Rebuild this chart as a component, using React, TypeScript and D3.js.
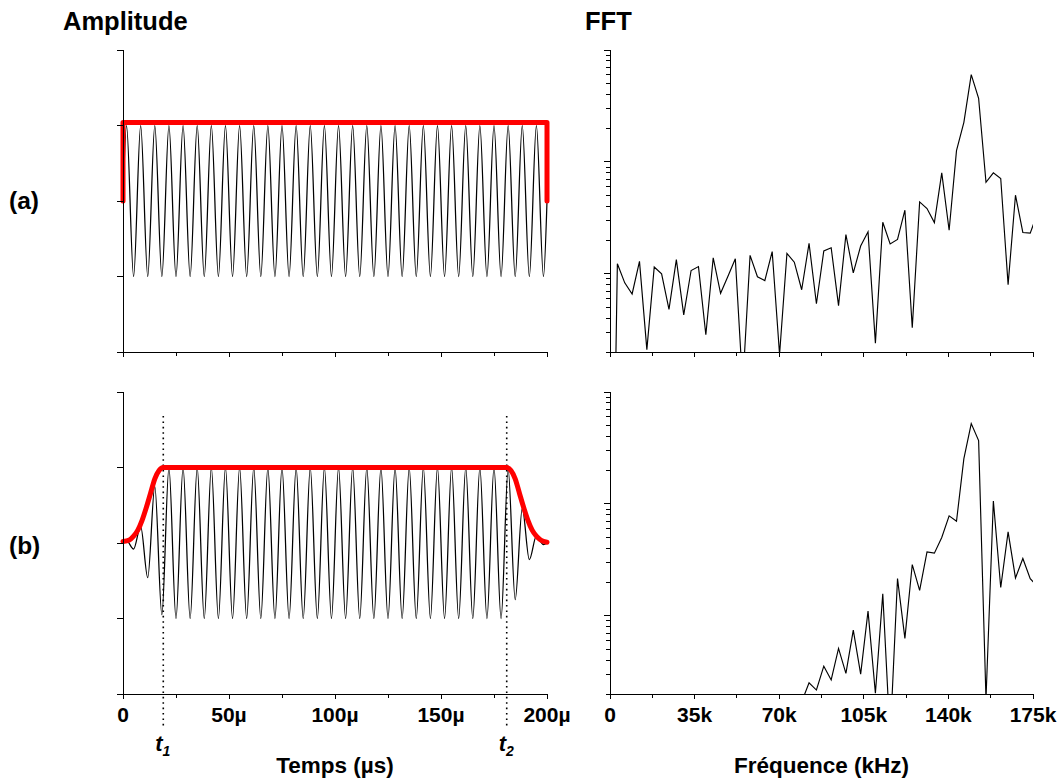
import React from "react";
import * as d3 from "d3";

// ---------- DATA ----------
// times (µs) of the carrier extrema (150 kHz carrier), plus start/end
const carrierTimes = [
  0, 1.67, 5, 8.33, 11.67, 15, 18.33, 21.67, 25, 28.33, 31.67, 35, 38.33, 41.67, 45, 48.33,
  51.67, 55, 58.33, 61.67, 65, 68.33, 71.67, 75, 78.33, 81.67, 85, 88.33, 91.67, 95, 98.33,
  101.67, 105, 108.33, 111.67, 115, 118.33, 121.67, 125, 128.33, 131.67, 135, 138.33, 141.67,
  145, 148.33, 151.67, 155, 158.33, 161.67, 165, 168.33, 171.67, 175, 178.33, 181.67, 185,
  188.33, 191.67, 195, 198.33, 200,
];
// (a) rectangular burst: extrema values
const signalA = [
  0,
  1, -1, 1, -1, 1, -1, 1, -1, 1, -1, 1, -1, 1, -1, 1, -1, 1, -1, 1, -1,
  1, -1, 1, -1, 1, -1, 1, -1, 1, -1, 1, -1, 1, -1, 1, -1, 1, -1, 1, -1,
  1, -1, 1, -1, 1, -1, 1, -1, 1, -1, 1, -1, 1, -1, 1, -1, 1, -1, 1, -1,
  0,
];
// (b) smoothed burst: extrema values
const signalB = [
  0, 0.03, -0.08, 0.22, -0.46, 0.75, -0.95,
  1, -1, 1, -1, 1, -1, 1, -1, 1, -1, 1, -1, 1, -1, 1, -1, 1, -1, 1, -1,
  1, -1, 1, -1, 1, -1, 1, -1, 1, -1, 1, -1, 1, -1, 1, -1, 1, -1, 1, -1,
  1, -1, 1, -1, 1, -1, 1, -1,
  0.98, -0.75, 0.46, -0.22, 0.09, -0.02, 0,
];
const envelopeATimes = [0, 0, 200, 200];
const envelopeAValues = [0, 1.04, 1.04, 0];
const envelopeBTimes = [0, 3, 5, 7, 9, 11, 13, 15, 17, 19, 181, 183, 185, 187, 189, 191, 193, 195, 197, 200];
const envelopeBValues = [0.02, 0.04, 0.09, 0.17, 0.3, 0.47, 0.66, 0.85, 0.96, 1, 1, 0.96, 0.85, 0.66, 0.47, 0.3, 0.17, 0.09, 0.04, 0.01];
const markerTimes = [19, 181];
const markerLabels = ["1", "2"];

const timeTicks = [0, 50, 100, 150, 200];
const timeTickLabels = ["0", "50µ", "100µ", "150µ", "200µ"];
const timeMinorTicks = [25, 75, 125, 175];
const ampTicks = [-2, -1, 0, 1, 2];

const freqStepKHz = 3.05;
const fftA = [
  0.0001, 1.23, 0.83, 0.66, 1.29, 0.21, 1.15, 1.0, 0.48, 1.34, 0.43, 1.07, 1.16, 0.285, 1.39,
  0.67, 0.95, 1.36, 0.1, 1.46, 0.94, 0.87, 1.58, 0.19, 1.52, 1.27, 0.72, 1.87, 0.54, 1.6, 1.71,
  0.52, 2.24, 1.02, 1.77, 2.37, 0.24, 2.89, 1.85, 2.03, 3.7, 0.33, 4.39, 3.83, 2.87, 7.98, 2.45,
  12.6, 22.6, 60.2, 37.0, 6.58, 7.98, 7.1, 0.8, 5.04, 2.34, 2.31, 3.5,
];
const fftBStartIndex = 26;
const fftB = [
  0.17, 0.252, 0.217, 0.355, 0.267, 0.511, 0.306, 0.745, 0.301, 1.1, 0.203, 1.57, 0.08, 2.15,
  0.628, 2.87, 1.69, 3.73, 3.63, 5.01, 7.81, 7.0, 25.4, 52.2, 36.8, 0.18, 10.6, 1.79, 5.62, 2.18,
  3.25, 2.15, 1.82,
];
const freqTicks = [0, 35, 70, 105, 140, 175];
const freqTickLabels = ["0", "35k", "70k", "105k", "140k", "175k"];
const freqMinorTicks = [17.5, 52.5, 87.5, 122.5, 157.5];

// ---------- LAYOUT ----------
const W = 1062;
const H = 782;
const FONT = "'Liberation Sans', Arial, Helvetica, sans-serif";
const panelsY = [
  { top: 50, bottom: 352 },
  { top: 392, bottom: 694 },
];
const xTime = d3.scaleLinear().domain([0, 200]).range([123, 547]);
const xFreq = d3.scaleLinear().domain([0, 175]).range([610, 1033]);

type Pt = [number, number];

function TimePanel({ idx, values, envT, envV, markers }: { idx: number; values: number[]; envT: number[]; envV: number[]; markers: boolean }) {
  const { top, bottom } = panelsY[idx];
  const y = d3.scaleLinear().domain([-2, 2]).range([bottom, top]);
  const sigPts: Pt[] = carrierTimes.map((t, i) => [t, values[i]]);
  const sigLine = d3.line<Pt>().x((d) => xTime(d[0])).y((d) => y(d[1])).curve(d3.curveMonotoneX);
  const envPts: Pt[] = envT.map((t, i) => [t, envV[i]]);
  const envLine = d3
    .line<Pt>()
    .x((d) => xTime(d[0]))
    .y((d) => y(d[1]))
    .curve(idx === 0 ? d3.curveLinear : d3.curveMonotoneX);
  const x0 = xTime(0);
  return (
    <g>
      {markers &&
        markerTimes.map((t, i) => (
          <line key={"m" + i} x1={xTime(t)} x2={xTime(t)} y1={416} y2={726} stroke="#000" strokeWidth={1.6} strokeDasharray="1.6,3.8" />
        ))}
      <path d={sigLine(sigPts) || ""} fill="none" stroke="#000" strokeWidth={1.25} />
      <path d={envLine(envPts) || ""} fill="none" stroke="#ff0000" strokeWidth={5} strokeLinejoin="round" strokeLinecap="round" />
      {/* axes */}
      <g shapeRendering="crispEdges" stroke="#000" strokeWidth={1}>
        <line x1={x0} x2={x0} y1={y(2)} y2={bottom} />
        <line x1={x0} x2={xTime(200)} y1={bottom} y2={bottom} />
        {ampTicks.map((v) => (
          <line key={"ya" + v} x1={x0 - 6} x2={x0} y1={y(v)} y2={y(v)} />
        ))}
        {timeTicks.map((v) => (
          <line key={"xt" + v} x1={xTime(v)} x2={xTime(v)} y1={bottom} y2={bottom + 5} />
        ))}
        {timeMinorTicks.map((v) => (
          <line key={"xm" + v} x1={xTime(v)} x2={xTime(v)} y1={bottom} y2={bottom + 4} />
        ))}
      </g>
    </g>
  );
}

function FftPanel({ idx, values, start }: { idx: number; values: number[]; start: number }) {
  const { top, bottom } = panelsY[idx];
  const y = d3.scaleLog().domain([0.2, 100]).range([bottom, top]);
  const pts: Pt[] = values.map((v, i) => [(start + i) * freqStepKHz, v]);
  const line = d3.line<Pt>().x((d) => xFreq(d[0])).y((d) => y(d[1]));
  const x0 = xFreq(0);
  const ticks = y.ticks();
  const clipId = "clipF" + idx;
  return (
    <g>
      <defs>
        <clipPath id={clipId}>
          <rect x={x0} y={top - 5} width={xFreq(175) - x0} height={bottom - top + 5} />
        </clipPath>
      </defs>
      <path d={line(pts) || ""} fill="none" stroke="#000" strokeWidth={1.15} clipPath={`url(#${clipId})`} />
      <g shapeRendering="crispEdges" stroke="#000" strokeWidth={1}>
        <line x1={x0} x2={x0} y1={top} y2={bottom} />
        <line x1={x0} x2={xFreq(175)} y1={bottom} y2={bottom} />
        {ticks.map((v, i) => {
          const major = Math.abs(Math.log10(v) - Math.round(Math.log10(v))) < 1e-6;
          return <line key={"yl" + i} x1={x0 - (major ? 6 : 4)} x2={x0} y1={y(v)} y2={y(v)} />;
        })}
        {freqTicks.map((v) => (
          <line key={"xf" + v} x1={xFreq(v)} x2={xFreq(v)} y1={bottom} y2={bottom + 5} />
        ))}
        {freqMinorTicks.map((v) => (
          <line key={"xfm" + v} x1={xFreq(v)} x2={xFreq(v)} y1={bottom} y2={bottom + 4} />
        ))}
      </g>
    </g>
  );
}

export default function App() {
  return (
    <svg width={W} height={H} viewBox={`0 0 ${W} ${H}`} style={{ position: "absolute", left: 0, top: 0, background: "#fff" }} fontFamily={FONT} fontWeight="bold">
      <rect x={0} y={0} width={W} height={H} fill="#fff" />
      <text x={63} y={30} fontSize={25.5}>Amplitude</text>
      <text x={585} y={30} fontSize={25.5}>FFT</text>
      <text x={9} y={209} fontSize={24.5}>(a)</text>
      <text x={9} y={554} fontSize={24.5}>(b)</text>

      <TimePanel idx={0} values={signalA} envT={envelopeATimes} envV={envelopeAValues} markers={false} />
      <TimePanel idx={1} values={signalB} envT={envelopeBTimes} envV={envelopeBValues} markers={true} />
      <FftPanel idx={0} values={fftA} start={0} />
      <FftPanel idx={1} values={fftB} start={fftBStartIndex} />

      {timeTicks.map((v, i) => (
        <text key={"tl" + v} x={xTime(v)} y={722} fontSize={21} textAnchor="middle">{timeTickLabels[i]}</text>
      ))}
      {freqTicks.map((v, i) => (
        <text key={"fl" + v} x={xFreq(v)} y={722} fontSize={21} textAnchor="middle">{freqTickLabels[i]}</text>
      ))}
      {markerTimes.map((t, i) => (
        <text key={"mk" + i} x={xTime(t) - 8} y={751} fontSize={22} fontStyle="italic">
          t<tspan dy={5} fontSize={14}>{markerLabels[i]}</tspan>
        </text>
      ))}
      <text x={xTime(100)} y={773} fontSize={22.5} textAnchor="middle">Temps (µs)</text>
      <text x={(xFreq(0) + xFreq(175)) / 2} y={773} fontSize={22.5} textAnchor="middle">Fréquence (kHz)</text>
    </svg>
  );
}
